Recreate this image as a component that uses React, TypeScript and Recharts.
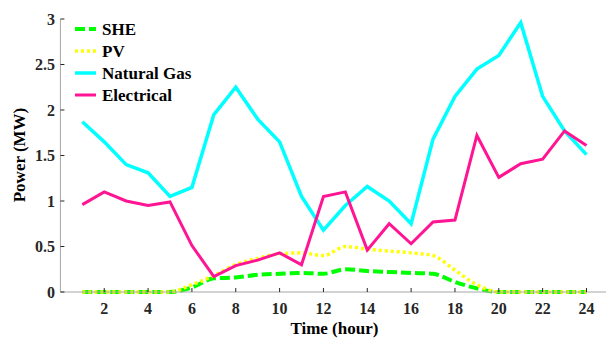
import React from 'react';
import { LineChart, Line, XAxis, YAxis } from 'recharts';

// hourly values (MW)
const HOURS = [1, 2, 3, 4, 5, 6, 7, 8, 9, 10, 11, 12, 13, 14, 15, 16, 17, 18, 19, 20, 21, 22, 23, 24];
const SHE = [0, 0, 0, 0, 0, 0.05, 0.15, 0.16, 0.19, 0.2, 0.21, 0.2, 0.25, 0.23, 0.22, 0.21, 0.2, 0.11, 0.04, 0, 0, 0, 0, 0];
const PV = [0, 0, 0, 0, 0, 0.08, 0.18, 0.3, 0.37, 0.42, 0.43, 0.4, 0.5, 0.47, 0.45, 0.43, 0.4, 0.24, 0.08, 0, 0, 0, 0, 0];
const NATURAL_GAS = [1.87, 1.65, 1.4, 1.31, 1.05, 1.15, 1.95, 2.25, 1.9, 1.65, 1.05, 0.68, 0.95, 1.16, 1.0, 0.75, 1.68, 2.15, 2.45, 2.6, 2.96, 2.15, 1.77, 1.51];
const ELECTRICAL = [0.96, 1.1, 1.0, 0.95, 0.99, 0.51, 0.17, 0.29, 0.35, 0.43, 0.3, 1.05, 1.1, 0.46, 0.75, 0.53, 0.77, 0.79, 1.72, 1.26, 1.41, 1.46, 1.77, 1.61];

const X_TICKS = [2, 4, 6, 8, 10, 12, 14, 16, 18, 20, 22, 24];
const Y_TICKS = [0, 0.5, 1, 1.5, 2, 2.5, 3];

const FONT = 'Liberation Serif';

const SERIES = [
  { key: 'she', name: 'SHE', color: '#00ff00', width: 4, dash: '10 4', type: 'monotone' },
  { key: 'pv', name: 'PV', color: '#ffff00', width: 3.5, dash: '3 3', type: 'monotone' },
  { key: 'gas', name: 'Natural Gas', color: '#00ffff', width: 3.5, dash: undefined, type: 'linear' },
  { key: 'elec', name: 'Electrical', color: '#ff1493', width: 3, dash: undefined, type: 'linear' },
];

const data = HOURS.map((h, i) => ({
  hour: h,
  she: SHE[i],
  pv: PV[i],
  gas: NATURAL_GAS[i],
  elec: ELECTRICAL[i],
}));

const tickStyle = { fontSize: 16, fontWeight: 700, fill: '#262626', fontFamily: FONT };
const labelStyle = { fontSize: 17, fontWeight: 700, fill: '#000', fontFamily: FONT };

const YLabel = () => (
  <text
    x={19}
    y={155}
    transform="rotate(-90 19 155)"
    textAnchor="middle"
    dominantBaseline="central"
    style={labelStyle}
  >
    Power (MW)
  </text>
);

// legend drawn as its own svg over the top-left of the plot
const ChartLegend = () => (
  <svg width={200} height={110} style={{ position: 'absolute', left: 0, top: 0 }}>
    {SERIES.map((s, i) => {
      const y = 29 + i * 22;
      return (
        <g key={s.key}>
          <line x1={75} y1={y} x2={96} y2={y} stroke={s.color} strokeWidth={s.width} strokeDasharray={s.dash} />
          <text x={102} y={y} dominantBaseline="central" style={labelStyle}>
            {s.name}
          </text>
        </g>
      );
    })}
  </svg>
);

export default function App() {
  return (
    <div style={{ position: 'absolute', left: 0, top: 0, width: 606, height: 338, overflow: 'hidden', background: '#fff' }}>
      <LineChart width={610} height={338} data={data} margin={{ top: 19, right: 1.6, bottom: 0, left: 0 }}>
        <XAxis
          dataKey="hour"
          type="number"
          domain={[0, 25]}
          ticks={X_TICKS}
          height={46}
          tick={tickStyle}
          tickSize={-4}
          tickMargin={15}
          axisLine={{ stroke: '#a6a6a6' }}
          tickLine={{ stroke: '#262626' }}
          label={{ value: 'Time (hour)', position: 'insideBottom', offset: 4, style: labelStyle }}
        />
        <YAxis
          type="number"
          domain={[0, 3]}
          ticks={Y_TICKS}
          width={60.4}
          tick={tickStyle}
          tickSize={-4}
          tickMargin={9.5}
          axisLine={{ stroke: '#a6a6a6' }}
          tickLine={{ stroke: '#262626' }}
          label={<YLabel />}
        />
        {SERIES.map((s) => (
          <Line
            key={s.key}
            dataKey={s.key}
            name={s.name}
            type={s.type as any}
            stroke={s.color}
            strokeWidth={s.width}
            strokeDasharray={s.dash}
            dot={false}
            activeDot={false}
            isAnimationActive={false}
          />
        ))}
      </LineChart>
      <ChartLegend />
    </div>
  );
}
